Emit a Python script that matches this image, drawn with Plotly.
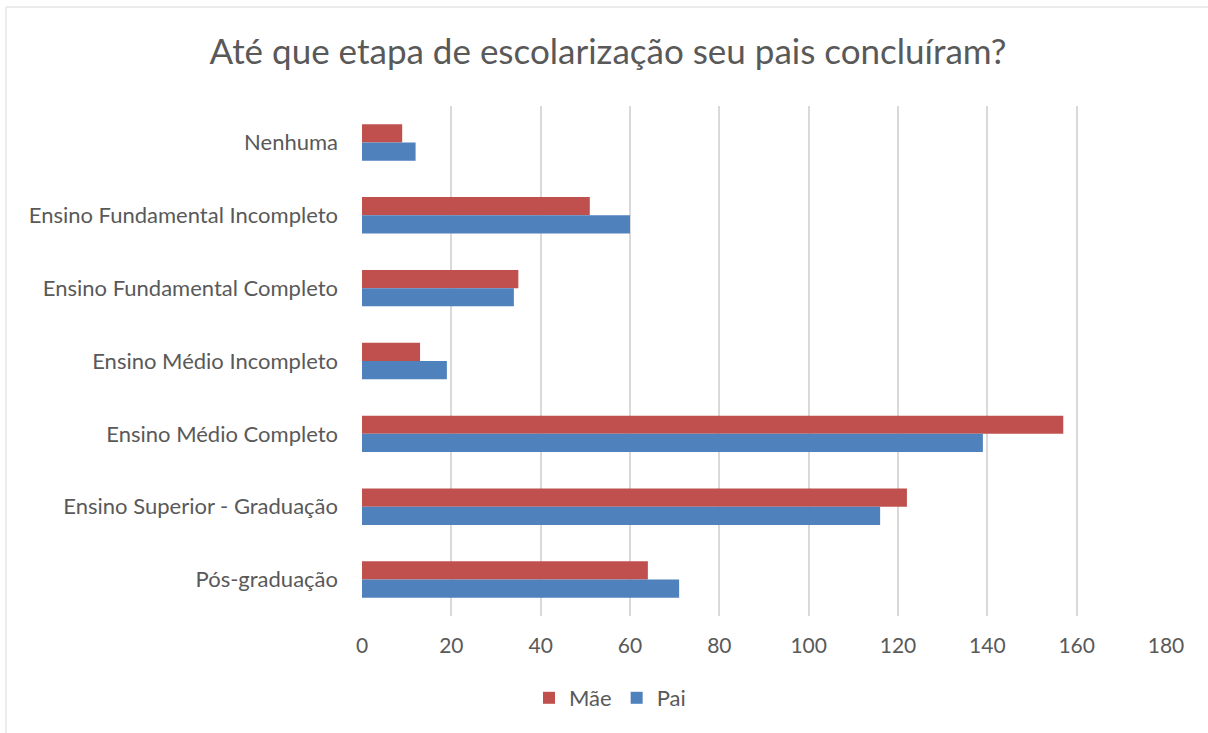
import plotly.graph_objects as go

categories = [
    "Nenhuma",
    "Ensino Fundamental Incompleto",
    "Ensino Fundamental Completo",
    "Ensino Médio Incompleto",
    "Ensino Médio Completo",
    "Ensino Superior - Graduação",
    "Pós-graduação",
]
mae = [9, 51, 35, 13, 157, 122, 64]
pai = [12, 60, 34, 19, 139, 116, 71]
x_ticks = [0, 20, 40, 60, 80, 100, 120, 140, 160, 180]

FONT = "Lato"
TXT = "#595959"

W, H = 1208, 733
L, R = 362, 1166
T, B = 106, 616

fig = go.Figure()
fig.add_trace(go.Bar(name="Mãe", y=categories, x=mae, orientation="h",
                     marker=dict(color="#C0504D", line=dict(width=0))))
fig.add_trace(go.Bar(name="Pai", y=categories, x=pai, orientation="h",
                     marker=dict(color="#4F81BD", line=dict(width=0))))

pw = R - L
ph = B - T

bx0 = (6 - L) / pw
bx1 = (W + 40 - L) / pw
by0 = (B - (H + 40)) / ph
by1 = (B - 7) / ph

fig.update_layout(
    width=W, height=H,
    margin=dict(l=L, r=W - R, t=T, b=H - B, pad=0),
    paper_bgcolor="white", plot_bgcolor="white",
    barmode="group", bargap=0.5, bargroupgap=0,
    font=dict(family=FONT, color=TXT, size=22),
    title=dict(text="Até que etapa de escolarização seu pais concluíram?",
               x=608 / W, xanchor="center", y=1 - 52 / H, yanchor="middle",
               font=dict(family=FONT, size=35, color=TXT)),
    xaxis=dict(range=[0, 180], tickvals=x_ticks, showgrid=True,
               gridcolor="#D9D9D9", gridwidth=1.5, zeroline=False,
               showline=False, ticks="", ticklabelstandoff=15,
               tickfont=dict(size=21, color=TXT)),
    yaxis=dict(autorange="reversed", showgrid=False, showline=False,
               ticks="", ticklabelstandoff=23,
               tickfont=dict(size=22, color=TXT)),
    legend=dict(orientation="h", x=(610 - L) / pw, xanchor="center",
                y=(B - 698) / ph, yanchor="middle",
                font=dict(size=22, color=TXT), itemwidth=30,
                traceorder="normal"),
    shapes=[
        dict(type="line", xref="paper", yref="paper",
             x0=bx0, x1=bx1, y0=by1, y1=by1,
             line=dict(color="#D9D9D9", width=1), layer="below"),
        dict(type="line", xref="paper", yref="paper",
             x0=bx0, x1=bx0, y0=by0, y1=by1,
             line=dict(color="#D9D9D9", width=1), layer="below"),
    ],
)

fig.write_html("out.html", config={"displayModeBar": False},
               post_script="document.body.style.margin='0';document.body.style.overflow='hidden';")
